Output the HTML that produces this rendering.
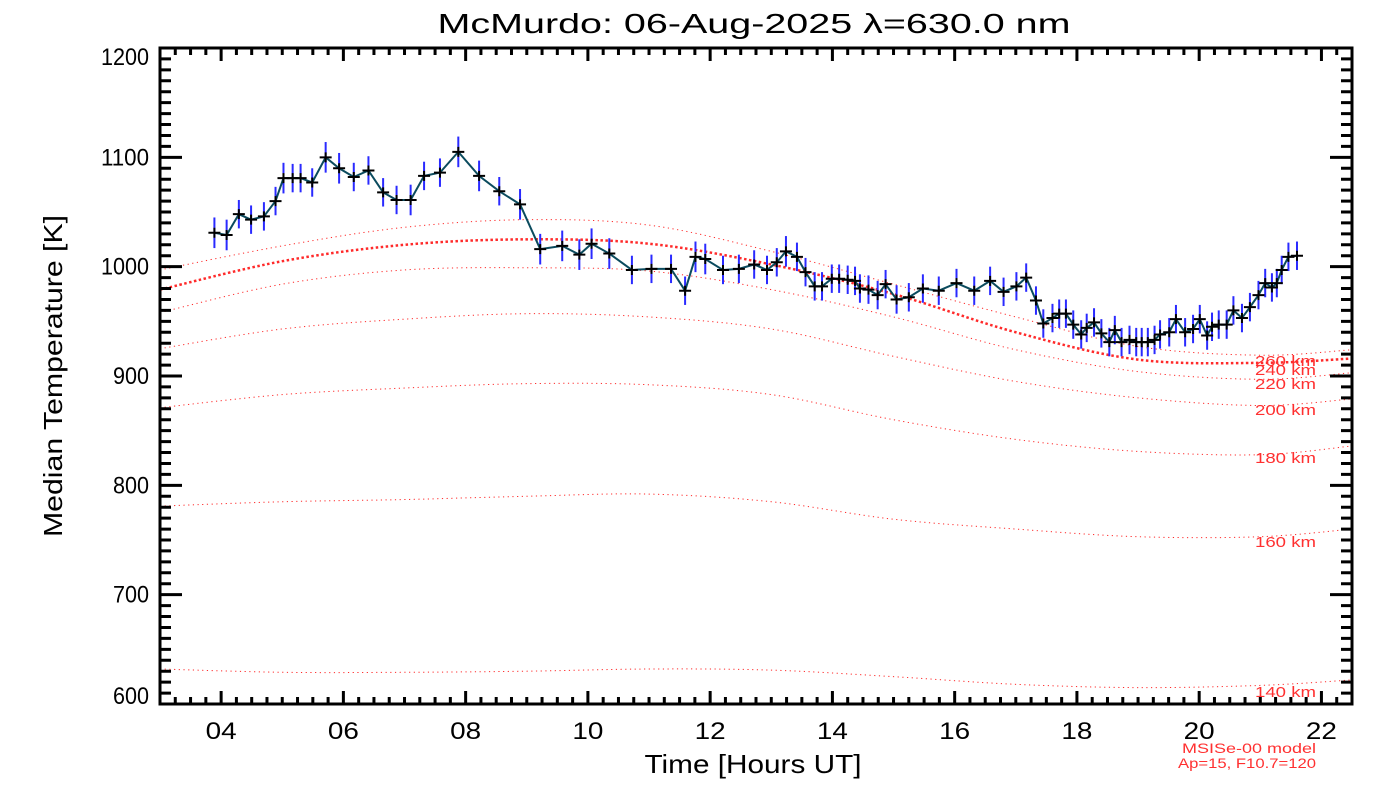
<!DOCTYPE html>
<html><head><meta charset="utf-8"><style>
html,body{margin:0;padding:0;background:#fff;}
svg{display:block;font-family:"Liberation Sans",sans-serif;}
</style></head><body>
<svg id="chart" width="1400" height="800" viewBox="0 0 1400 800" xmlns="http://www.w3.org/2000/svg">
<rect width="1400" height="800" fill="#fff"/>
<text x="754" y="33" font-size="28" text-anchor="middle" fill="#000" textLength="633" lengthAdjust="spacingAndGlyphs">McMurdo: 06-Aug-2025 λ=630.0 nm</text>
<text x="753" y="773" font-size="26" text-anchor="middle" fill="#000" textLength="217" lengthAdjust="spacingAndGlyphs">Time [Hours UT]</text>
<text transform="translate(62,376) rotate(-90)" font-size="26" text-anchor="middle" fill="#000" textLength="322" lengthAdjust="spacingAndGlyphs">Median Temperature [K]</text>
<text x="1316" y="753" font-size="14" text-anchor="end" fill="#ff3030" textLength="134" lengthAdjust="spacingAndGlyphs">MSISe-00 model</text>
<text x="1316" y="768" font-size="14" text-anchor="end" fill="#ff3030" textLength="138" lengthAdjust="spacingAndGlyphs">Ap=15, F10.7=120</text>
<g id="models"></g>
<g id="series"></g>
<g id="axes"></g>
</svg>
<script>
const hours = [3.89,4.09,4.29,4.49,4.70,4.89,5.02,5.17,5.30,5.49,5.71,5.93,6.17,6.41,6.65,6.87,7.10,7.32,7.58,7.88,8.22,8.55,8.89,9.22,9.58,9.86,10.06,10.35,10.72,11.04,11.36,11.59,11.76,11.92,12.21,12.47,12.72,12.93,13.09,13.24,13.42,13.56,13.71,13.83,13.99,14.11,14.25,14.37,14.45,14.59,14.74,14.87,15.05,15.25,15.48,15.74,16.03,16.32,16.58,16.80,17.01,17.17,17.33,17.45,17.60,17.71,17.82,17.94,18.07,18.16,18.28,18.40,18.53,18.62,18.73,18.86,18.97,19.06,19.16,19.27,19.36,19.51,19.62,19.77,19.90,20.01,20.13,20.21,20.32,20.45,20.56,20.70,20.83,20.97,21.08,21.19,21.27,21.35,21.46,21.60];
const temps = [1031,1029,1048,1043,1046,1060,1081,1081,1081,1077,1100,1090,1082,1088,1068,1061,1061,1083,1086,1105,1083,1069,1057,1016,1019,1011,1021,1012,997,998,998,978,1009,1007,997,998,1002,997,1004,1014,1009,995,982,982,989,989,988,987,980,979,974,984,970,972,980,978,985,978,987,977,982,990,969,948,953,957,957,947,938,944,949,939,931,942,931,933,931,931,931,933,938,940,952,940,943,952,937,945,947,947,960,953,963,974,985,981,985,997,1009,1010];
const errs = [14,14,13,13,13,13,14,13,13,13,14,14,13,13,13,13,14,13,13,14,14,13,14,14,14,14,14,14,13,13,13,13,14,14,13,13,13,13,13,14,13,13,13,13,13,13,13,13,13,13,13,13,13,13,13,13,13,13,13,13,13,13,13,13,13,13,13,13,13,13,13,13,13,13,13,13,13,13,13,13,13,13,13,13,13,13,13,13,13,13,13,13,13,13,13,13,13,13,13,13];
const modelHours = [3,5,7,9,11,13,15,17,19,21,22.5];
const alt140 = [632,629,629,630,632,631,625,618,615,617,622];
const alt160 = [781,785,787,790,792,785,769,760,753,753,760];
const alt180 = [871,883,889,893,892,883,860,842,831,828,836];
const alt200 = [925,943,952,957,954,943,918,895,880,873,879];
const alt220 = [958,984,997,999,996,979,954,924,904,897,903];
const alt240 = [979,1005,1020,1025,1021,1002,975,940,915,912,916];
const alt260 = [997,1019,1036,1043,1038,1014,984,954,927,919,924];
const altNames = ['140 km','160 km','180 km','200 km','220 km','240 km','260 km'];
const altLabelY = [692,542,458,410,384,370,361];
const xTicks = ['04','06','08','10','12','14','16','18','20','22'];
const yTicks = ['600','700','800','900','1000','1100','1200'];

const X0=160,X1=1352,Y0=704,Y1=48,HMIN=3.0,HMAX=22.5,TMIN=600,TMAX=1200;
const sx=h=>X0+(h-HMIN)/(HMAX-HMIN)*(X1-X0);
const sy=t=>Y0-(t-TMIN)/(TMAX-TMIN)*(Y0-Y1);
const NS='http://www.w3.org/2000/svg';
function mk(tag,attrs,parent){const e=document.createElementNS(NS,tag);for(const k in attrs)e.setAttribute(k,attrs[k]);parent.appendChild(e);return e;}

function smoothPath(xs,ys){
  const p=xs.map((h,i)=>[sx(h),sy(ys[i])]);
  let d='M'+p[0][0]+','+p[0][1];
  for(let i=0;i<p.length-1;i++){
    const a=p[Math.max(0,i-1)],b=p[i],c=p[i+1],e=p[Math.min(p.length-1,i+2)];
    const c1=[b[0]+(c[0]-a[0])/6,b[1]+(c[1]-a[1])/6],c2=[c[0]-(e[0]-b[0])/6,c[1]-(e[1]-b[1])/6];
    d+=' C'+c1[0]+','+c1[1]+' '+c2[0]+','+c2[1]+' '+c[0]+','+c[1];
  }
  return d;
}
const mg=document.getElementById('models');
const alts=[alt140,alt160,alt180,alt200,alt220,alt240,alt260];
alts.forEach((arr,i)=>{
  const thick=(i===5);
  const p=mk('path',{d:smoothPath(modelHours,arr),fill:'none',stroke:'#ff2a2a','stroke-width':thick?2.5:1,'stroke-dasharray':thick?'2.5 2.5':'1.2 3.5'},mg);
  
  
  const t=mk('text',{x:1316,y:altLabelY[i]+5,'font-size':15,'text-anchor':'end',fill:'#ff3030',textLength:61,lengthAdjust:'spacingAndGlyphs'},mg);
  t.textContent=altNames[i];
  
  
});

const sg=document.getElementById('series');
hours.forEach((h,i)=>{
  const eb=mk('line',{x1:sx(h),x2:sx(h),y1:sy(temps[i]-errs[i]),y2:sy(temps[i]+errs[i]),stroke:'#2a2aff','stroke-width':2},sg);
  
  
});
const line=mk('polyline',{points:hours.map((h,i)=>sx(h)+','+sy(temps[i])).join(' '),fill:'none',stroke:'#0b4b5e','stroke-width':2},sg);


hours.forEach((h,i)=>{
  const x=sx(h),y=sy(temps[i]);
  const m=mk('path',{d:`M${x-6},${y}H${x+6}M${x},${y-5}V${y+5}`,stroke:'#000','stroke-width':2},sg);
  
  
});

const ag=document.getElementById('axes');
const frame=mk('rect',{x:X0,y:Y1,width:X1-X0,height:Y0-Y1,fill:'none',stroke:'#000','stroke-width':3},ag);


let d='';
for(let h=HMIN;h<=HMAX+1e-6;h+=0.25){
  const x=sx(h);const major=Math.abs(h/2-Math.round(h/2))<1e-6;const L=major?13:7;
  d+=`M${x},${Y0}V${Y0-L}M${x},${Y1}V${Y1+L}`;
}
for(let t=TMIN;t<=TMAX;t+=10){
  const y=sy(t);const major=t%100===0;const L=major?22:11;
  d+=`M${X0},${y}H${X0+L}M${X1},${y}H${X1-L}`;
}
const ticks=mk('path',{d:d,stroke:'#000','stroke-width':3},ag);


xTicks.forEach(s=>{
  const t=mk('text',{x:sx(+s),y:739,'font-size':24,'text-anchor':'middle',fill:'#000',textLength:31,lengthAdjust:'spacingAndGlyphs'},ag);
  t.textContent=s;
  
  
});
yTicks.forEach((s,i)=>{
  let off=8;
  if(i===0) off=0;
  if(i===yTicks.length-1) off=17;
  const t=mk('text',{x:149,y:sy(+s)+off,'font-size':24,'text-anchor':'end',fill:'#000',textLength:s.length*12,lengthAdjust:'spacingAndGlyphs'},ag);
  t.textContent=s;
  
  
});
</script>
</body></html>
